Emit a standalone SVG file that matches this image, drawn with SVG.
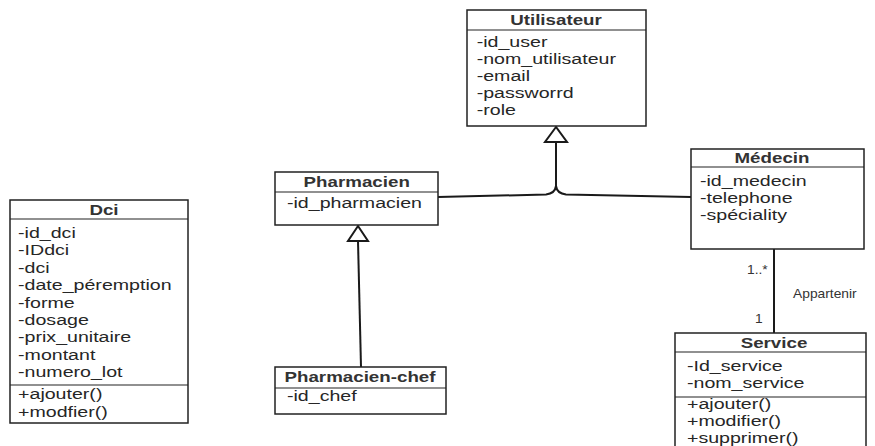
<svg xmlns="http://www.w3.org/2000/svg" width="875" height="446" viewBox="0 0 875 446">
  <style>
    .box { fill: #ffffff; stroke: #222222; stroke-width: 1.5; }
    .sep { stroke: #222222; stroke-width: 1.2; fill: none; }
    .t { font-family: "Liberation Sans", Arial, sans-serif; font-size: 14px; fill: #262626; }
    .title { font-family: "Liberation Sans", Arial, sans-serif; font-size: 15px; font-weight: bold; fill: #333333; text-anchor: middle; }
    .lbl { font-family: "Liberation Sans", Arial, sans-serif; font-size: 12px; fill: #333333; }
    .edge { stroke: #1a1a1a; stroke-width: 2; fill: none; }
    .tri { fill: #ffffff; stroke: #1a1a1a; stroke-width: 2; stroke-linejoin: miter; }
  </style>
  <rect width="875" height="446" fill="#ffffff"/>

  <!-- connectors -->
  <g id="connectors">
    <!-- generalisation: Pharmacien / Médecin -> Utilisateur -->
    <path class="edge" d="M438,197 L546,194.5 Q555,193.5 556,186 L556,142"/>
    <path class="edge" d="M691,197 L566,194.5 Q557,193.5 556,186"/>
    <polygon class="tri" points="556,127 545,142 567,142"/>
    <!-- generalisation: Pharmacien-chef -> Pharmacien -->
    <path class="edge" d="M361,367 L358,241"/>
    <polygon class="tri" points="358,226 348,241 368,241"/>
    <!-- association Médecin - Service -->
    <path class="edge" d="M774,249 L774,333"/>
    <g transform="scale(1.15,1)">
      <text class="lbl" x="649.6" y="274">1..*</text>
      <text class="lbl" x="689.6" y="298">Appartenir</text>
      <text class="lbl" x="656.5" y="323">1</text>
    </g>
  </g>

  <!-- Utilisateur -->
  <g id="utilisateur">
    <rect class="box" x="467" y="10" width="179" height="116"/>
    <line class="sep" x1="467" y1="30" x2="646" y2="30"/>
    <text class="title" transform="scale(1.25,1)" x="444.8" y="25.5">Utilisateur</text>
    <g transform="scale(1.4,1)">
      <text class="t" x="340.5" y="47">-id_user</text>
      <text class="t" x="340.5" y="64">-nom_utilisateur</text>
      <text class="t" x="340.5" y="81">-email</text>
      <text class="t" x="340.5" y="98">-passworrd</text>
      <text class="t" x="340.5" y="115">-role</text>
    </g>
  </g>

  <!-- Pharmacien -->
  <g id="pharmacien">
    <rect class="box" x="275" y="172" width="163" height="53"/>
    <line class="sep" x1="275" y1="192" x2="438" y2="192"/>
    <text class="title" transform="scale(1.25,1)" x="285.4" y="187">Pharmacien</text>
    <g transform="scale(1.4,1)">
      <text class="t" x="205" y="208">-id_pharmacien</text>
    </g>
  </g>

  <!-- Médecin -->
  <g id="medecin">
    <rect class="box" x="691" y="149" width="173" height="100"/>
    <line class="sep" x1="691" y1="167" x2="864" y2="167"/>
    <text class="title" transform="scale(1.25,1)" x="617.6" y="163">Médecin</text>
    <g transform="scale(1.4,1)">
      <text class="t" x="500" y="186">-id_medecin</text>
      <text class="t" x="500" y="203">-telephone</text>
      <text class="t" x="500" y="220">-spéciality</text>
    </g>
  </g>

  <!-- Dci -->
  <g id="dci">
    <rect class="box" x="10" y="200" width="178" height="223"/>
    <line class="sep" x1="10" y1="219" x2="188" y2="219"/>
    <line class="sep" x1="10" y1="385" x2="188" y2="385"/>
    <text class="title" transform="scale(1.25,1)" x="83.2" y="215.5">Dci</text>
    <g transform="scale(1.4,1)">
      <text class="t" x="12.9" y="238">-id_dci</text>
      <text class="t" x="12.9" y="255.4">-IDdci</text>
      <text class="t" x="12.9" y="272.8">-dci</text>
      <text class="t" x="12.9" y="290.2">-date_péremption</text>
      <text class="t" x="12.9" y="307.6">-forme</text>
      <text class="t" x="12.9" y="325">-dosage</text>
      <text class="t" x="12.9" y="342.4">-prix_unitaire</text>
      <text class="t" x="12.9" y="359.8">-montant</text>
      <text class="t" x="12.9" y="377.2">-numero_lot</text>
      <text class="t" x="12.9" y="399">+ajouter()</text>
      <text class="t" x="12.9" y="417">+modfier()</text>
    </g>
  </g>

  <!-- Pharmacien-chef -->
  <g id="pharmacien-chef">
    <rect class="box" x="275" y="367" width="171" height="47"/>
    <line class="sep" x1="275" y1="388" x2="446" y2="388"/>
    <text class="title" transform="scale(1.25,1)" x="288" y="382">Pharmacien-chef</text>
    <g transform="scale(1.4,1)">
      <text class="t" x="205" y="401">-id_chef</text>
    </g>
  </g>

  <!-- Service -->
  <g id="service">
    <rect class="box" x="675" y="333" width="191" height="120"/>
    <line class="sep" x1="675" y1="352" x2="866" y2="352"/>
    <line class="sep" x1="675" y1="397" x2="866" y2="397"/>
    <text class="title" transform="scale(1.25,1)" x="619.2" y="348">Service</text>
    <g transform="scale(1.4,1)">
      <text class="t" x="490.7" y="371">-Id_service</text>
      <text class="t" x="490.7" y="388">-nom_service</text>
      <text class="t" x="490.7" y="409">+ajouter()</text>
      <text class="t" x="490.7" y="426">+modifier()</text>
      <text class="t" x="490.7" y="443">+supprimer()</text>
    </g>
  </g>
</svg>
